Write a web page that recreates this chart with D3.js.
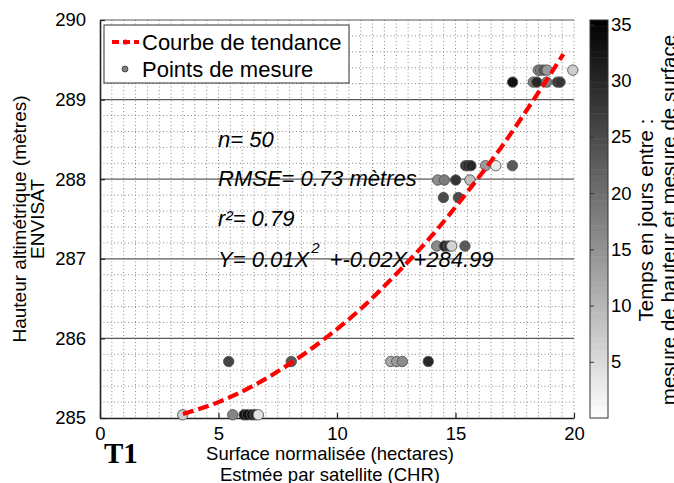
<!DOCTYPE html>
<html>
<head>
<meta charset="utf-8">
<script src="https://cdn.jsdelivr.net/npm/d3@7"></script>
<style>
  html, body { margin: 0; padding: 0; background: #fff; }
  svg { display: block; }
  text { font-family: "Liberation Sans", Arial, sans-serif; fill: #000; }
</style>
</head>
<body>
<svg id="chart" width="674" height="483"></svg>
<script>
// ---------- data ----------
const surface = [3.49, 5.60, 6.08, 6.22, 6.40, 6.54, 6.68,
                 5.43, 8.07, 12.27, 12.52, 12.76, 13.85,
                 14.21, 14.53, 14.70, 14.84, 15.40,
                 14.49, 15.12,
                 14.25, 14.53, 15.01, 15.61,
                 15.43, 15.53, 15.65, 16.27, 16.70, 17.40,
                 17.41, 18.28, 18.43, 18.85, 19.30, 19.41,
                 18.49, 18.59, 18.73, 18.87, 19.95];
const height = [285.04, 285.04, 285.04, 285.04, 285.04, 285.04, 285.04,
                285.71, 285.71, 285.71, 285.71, 285.71, 285.71,
                287.16, 287.16, 287.16, 287.16, 287.16,
                287.77, 287.77,
                287.99, 287.99, 287.99, 287.99,
                288.17, 288.17, 288.17, 288.17, 288.17, 288.17,
                289.22, 289.22, 289.22, 289.22, 289.22, 289.22,
                289.37, 289.37, 289.37, 289.37, 289.37];
const days = [7, 17, 33, 33, 33, 30, 4,
              26, 23, 12, 14, 16, 30,
              16, 30, 28, 6, 23,
              25, 25,
              16, 18, 28, 9,
              28, 30, 30, 14, 3, 23,
              33, 18, 30, 18, 28, 28,
              16, 18, 23, 14, 7];

const trendX = [3.5, 5, 6.5, 8, 9.5, 11, 12.5, 14, 15.5, 17, 18.5, 19.55];
const trendY = [285.05, 285.20, 285.41, 285.68, 286.00, 286.37, 286.81, 287.29, 287.84, 288.43, 289.09, 289.57];

const xTicks = [0, 5, 10, 15, 20];
const yTicks = [285, 286, 287, 288, 289, 290];
const cTicks = [5, 10, 15, 20, 25, 30, 35];
const cMax = 35.4;

const legendLabels = ["Courbe de tendance", "Points de mesure"];
const statLines = ["n= 50", "RMSE= 0.73 mètres", "r²= 0.79"];
const eqParts = ["Y= 0.01X", "2", " +-0.02X +284.99"];
const xLabel = ["Surface normalisée (hectares)", "Estmée par satellite (CHR)"];
const yLabel = ["Hauteur altimétrique (mètres)", "ENVISAT"];
const cLabel = ["Temps en jours entre :", "mesure de hauteur et mesure de surface"];

// ---------- scales ----------
const svg = d3.select("#chart");
const x = d3.scaleLinear().domain([0, 20]).range([100, 574]);
const y = d3.scaleLinear().domain([285, 290]).range([418, 20]);
const cy = d3.scaleLinear().domain([0, cMax]).range([418, 20]);
const color = d3.scaleLinear().domain([0, cMax]).range(["#ffffff", "#000000"]);

// ---------- grid ----------
const grid = svg.append("g");
grid.selectAll("line.vx").data(x.ticks(40).filter(v => v > 0))
  .enter().append("line")
  .attr("x1", d => x(d)).attr("x2", d => x(d))
  .attr("y1", y(290)).attr("y2", y(285))
  .attr("stroke", "#8a8a8a").attr("stroke-width", 1)
  .attr("stroke-dasharray", "1,2.5");
grid.selectAll("line.hy").data(y.ticks(25).filter(v => Math.abs(v - Math.round(v)) > 1e-6))
  .enter().append("line")
  .attr("x1", x(0)).attr("x2", x(20))
  .attr("y1", d => y(d)).attr("y2", d => y(d))
  .attr("stroke", "#8a8a8a").attr("stroke-width", 1)
  .attr("stroke-dasharray", "1,2.5");
grid.selectAll("line.maj").data(yTicks.filter(v => v > 285))
  .enter().append("line")
  .attr("x1", x(0)).attr("x2", x(20))
  .attr("y1", d => y(d)).attr("y2", d => y(d))
  .attr("stroke", "#5a5a5a").attr("stroke-width", 1.2);

// ---------- axes ----------
const axL = svg.append("g").attr("transform", `translate(${x(0)},0)`)
  .call(d3.axisLeft(y).tickValues(yTicks).tickFormat(d3.format("d")).tickSizeInner(-5).tickSizeOuter(0).tickPadding(14));
const axB = svg.append("g").attr("transform", `translate(0,${y(285)})`)
  .call(d3.axisBottom(x).tickValues(xTicks).tickFormat(d3.format("d")).tickSizeInner(-5).tickSizeOuter(0).tickPadding(9));
[axL, axB].forEach(a => {
  a.select(".domain").attr("stroke", "#222").attr("stroke-width", 1.6);
  a.selectAll(".tick line").attr("stroke", "#222").attr("stroke-width", 1.2);
  a.selectAll(".tick text").style("font-family", '"Liberation Sans", Arial, sans-serif').style("font-size", "18.5px").attr("fill", "#000");
});

// ---------- scatter ----------
const pts = surface.map((s, i) => ({ s, h: height[i], d: days[i] }));
svg.append("g").selectAll("circle").data(pts).enter().append("circle")
  .attr("cx", d => x(d.s)).attr("cy", d => y(d.h)).attr("r", 5.2)
  .attr("fill", d => color(d.d))
  .attr("stroke", "#555").attr("stroke-width", 0.9);

// ---------- trend curve ----------
const trend = trendX.map((t, i) => [t, trendY[i]]);
svg.append("path").datum(trend)
  .attr("d", d3.line().x(d => x(d[0])).y(d => y(d[1])).curve(d3.curveMonotoneX))
  .attr("fill", "none").attr("stroke", "#ff0000").attr("stroke-width", 4.2)
  .attr("stroke-dasharray", "11,5");

// ---------- legend ----------
const lg = svg.append("g");
lg.append("rect").attr("x", 104).attr("y", 25).attr("width", 245).attr("height", 58)
  .attr("fill", "#fff").attr("stroke", "#333").attr("stroke-width", 1);
lg.append("line").attr("x1", 112).attr("x2", 139).attr("y1", 42).attr("y2", 42)
  .attr("stroke", "#ff0000").attr("stroke-width", 4).attr("stroke-dasharray", "7,4");
lg.append("circle").attr("cx", 125.5).attr("cy", 42).attr("r", 2.6).attr("fill", "#ff0000");
lg.append("circle").attr("cx", 125).attr("cy", 69).attr("r", 3).attr("fill", "#808080").attr("stroke", "#333").attr("stroke-width", 0.8);
lg.selectAll("text").data(legendLabels).enter().append("text")
  .attr("x", 142).attr("y", (d, i) => 49.5 + i * 27)
  .style("font-size", "22px").text(d => d);

// ---------- stats ----------
const st = svg.append("g").style("font-style", "italic").style("font-size", "22px");
st.selectAll("text.s").data(statLines).enter().append("text")
  .attr("x", 218).attr("y", (d, i) => 146.5 + i * 39.5).text(d => d);
const eq = st.append("text").attr("x", 218).attr("y", 267);
eq.append("tspan").text(eqParts[0]);
eq.append("tspan").attr("dy", -14).attr("dx", 2).style("font-size", "15px").text(eqParts[1]);
eq.append("tspan").attr("dy", 14).attr("dx", 4).text(eqParts[2]);

// ---------- axis labels ----------
svg.selectAll("text.xl").data(xLabel).enter().append("text")
  .attr("x", 330).attr("y", (d, i) => 459.5 + i * 21)
  .attr("text-anchor", "middle").style("font-size", "18.5px").text(d => d);
svg.selectAll("text.yl").data(yLabel).enter().append("text")
  .attr("transform", (d, i) => `translate(${25.5 + i * 18.5},219) rotate(-90)`)
  .attr("text-anchor", "middle").style("font-size", "19px").text(d => d);
svg.append("text").attr("x", 104).attr("y", 463)
  .style("font-family", '"Liberation Serif", "Times New Roman", serif')
  .style("font-weight", "bold").style("font-size", "29px").text("T1");

// ---------- colorbar ----------
const nBands = 64;
const bands = d3.range(nBands).map(i => [i * cMax / nBands, (i + 1) * cMax / nBands]);
const cb = svg.append("g");
cb.selectAll("rect").data(bands).enter().append("rect")
  .attr("x", 590).attr("width", 18)
  .attr("y", d => cy(d[1])).attr("height", d => cy(d[0]) - cy(d[1]) + 0.5)
  .attr("fill", d => color((d[0] + d[1]) / 2));
cb.append("rect").attr("x", 590).attr("y", cy(cMax)).attr("width", 18).attr("height", cy(0) - cy(cMax))
  .attr("fill", "none").attr("stroke", "#333").attr("stroke-width", 1);
const cbL = cb.append("g").attr("transform", "translate(590,0)")
  .call(d3.axisLeft(cy).tickValues(cTicks).tickFormat("").tickSizeInner(-4).tickSizeOuter(0));
cbL.select(".domain").remove();
cbL.selectAll(".tick line").attr("stroke", "#333");
const cbR = cb.append("g").attr("transform", "translate(608,0)")
  .call(d3.axisRight(cy).tickValues(cTicks).tickFormat(d3.format("d")).tickSizeInner(0).tickSizeOuter(0).tickPadding(3));
cbR.select(".domain").remove();
cbR.selectAll(".tick text").style("font-family", '"Liberation Sans", Arial, sans-serif').style("font-size", "18.5px").attr("fill", "#000");
svg.selectAll("text.cl").data(cLabel).enter().append("text")
  .attr("transform", (d, i) => `translate(${653 + i * 23},220) rotate(-90)`)
  .attr("text-anchor", "middle").style("font-size", "20.5px").text(d => d);
</script>
</body>
</html>
